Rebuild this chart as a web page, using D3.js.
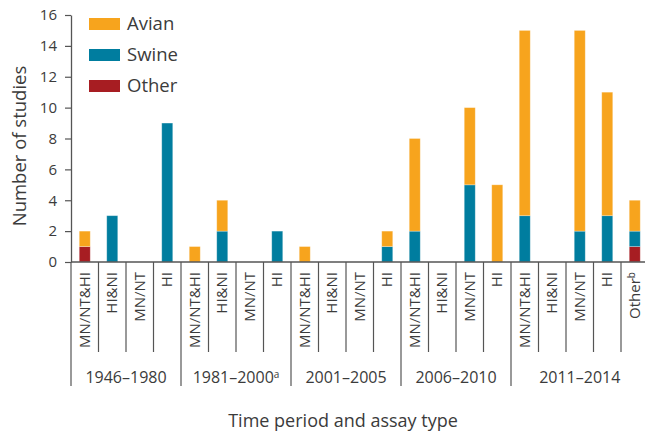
<!DOCTYPE html>
<html>
<head>
<meta charset="utf-8">
<script src="https://cdn.jsdelivr.net/npm/d3@7"></script>
<style>
  body { margin: 0; background: #fff; }
  text { font-family: "Open Sans", sans-serif; fill: #3b3b3b; }
</style>
</head>
<body>
<svg id="chart" width="645" height="432"></svg>
<script>
// data
const periods = ["1946–1980", "1981–2000", "2001–2005", "2006–2010", "2011–2014"];
const periodNotes = ["", "a", "", "", ""];
const assayLabels = [
  "MN/NT&HI", "HI&NI", "MN/NT", "HI",
  "MN/NT&HI", "HI&NI", "MN/NT", "HI",
  "MN/NT&HI", "HI&NI", "MN/NT", "HI",
  "MN/NT&HI", "HI&NI", "MN/NT", "HI",
  "MN/NT&HI", "HI&NI", "MN/NT", "HI", "Other"
];
const assayNotes = ["", "", "", "", "", "", "", "", "", "", "", "", "", "", "", "", "", "", "", "", "b"];
const categoryPeriod = [0, 0, 0, 0, 1, 1, 1, 1, 2, 2, 2, 2, 3, 3, 3, 3, 4, 4, 4, 4, 4];
const other = [1, 0, 0, 0, 0, 0, 0, 0, 0, 0, 0, 0, 0, 0, 0, 0, 0, 0, 0, 0, 1];
const swine = [0, 3, 0, 9, 0, 2, 0, 2, 0, 0, 0, 1, 2, 0, 5, 0, 3, 0, 2, 3, 1];
const avian = [1, 0, 0, 0, 1, 2, 0, 0, 1, 0, 0, 1, 6, 0, 5, 5, 12, 0, 13, 8, 2];
const yTicks = [0, 2, 4, 6, 8, 10, 12, 14, 16];

const seriesKeys = ["other", "swine", "avian"];
const seriesNames = { avian: "Avian", swine: "Swine", other: "Other" };
const colors = { avian: "#f7a41d", swine: "#007d9f", other: "#a71d22" };

const svg = d3.select("#chart");
const plot = { left: 71, right: 648.5, top: 15, bottom: 262 };

const rows = assayLabels.map((a, i) => ({
  i: i, other: other[i], swine: swine[i], avian: avian[i]
}));

const x = d3.scaleBand()
  .domain(d3.range(assayLabels.length))
  .range([plot.left, plot.right])
  .padding(0);
const y = d3.scaleLinear().domain([0, 16]).range([plot.bottom, plot.top]);

const barW = x.bandwidth() * 0.4;

// bars
const stacked = d3.stack().keys(seriesKeys)(rows);
svg.append("g")
  .selectAll("g")
  .data(stacked)
  .join("g")
  .attr("fill", d => colors[d.key])
  .selectAll("rect")
  .data(d => d.filter(s => s[1] - s[0] > 0))
  .join("rect")
  .attr("x", d => x(d.data.i) + (x.bandwidth() - barW) / 2)
  .attr("y", d => y(d[1]))
  .attr("width", barW)
  .attr("height", d => y(d[0]) - y(d[1]))
  .attr("stroke", "rgba(255,255,255,0.35)")
  .attr("stroke-width", 0.8);

// y axis
const yAxis = svg.append("g")
  .attr("transform", `translate(${plot.left},0)`)
  .call(d3.axisLeft(y).tickValues(yTicks).tickSize(6).tickPadding(8).tickSizeOuter(0));
yAxis.select(".domain").attr("stroke", "#555").attr("stroke-width", 1.3);
yAxis.selectAll(".tick line").attr("stroke", "#555").attr("stroke-width", 1.2);
yAxis.selectAll(".tick text")
  .style("font-family", "'Open Sans', sans-serif")
  .style("font-size", "15px")
  .attr("fill", "#3b3b3b");

// x axis line
svg.append("line")
  .attr("x1", plot.left).attr("x2", plot.right)
  .attr("y1", plot.bottom).attr("y2", plot.bottom)
  .attr("stroke", "#555").attr("stroke-width", 1.3);

// separators between categories
const catLineBottom = 352;
const groupLineBottom = 386;
const boundaries = d3.range(assayLabels.length + 1);
svg.append("g")
  .selectAll("line")
  .data(boundaries)
  .join("line")
  .attr("x1", i => i < assayLabels.length ? x(i) : plot.right)
  .attr("x2", i => i < assayLabels.length ? x(i) : plot.right)
  .attr("y1", plot.bottom)
  .attr("y2", i => (i === 0 || i === assayLabels.length || categoryPeriod[i] !== categoryPeriod[i - 1]) ? groupLineBottom : catLineBottom)
  .attr("stroke", "#555")
  .attr("stroke-width", 1.2);

// category labels
const catData = assayLabels.map((label, i) => ({ i: i, label: label, note: assayNotes[i] }));
const catLabels = svg.append("g")
  .selectAll("text")
  .data(catData)
  .join("text")
  .attr("transform", d => `translate(${x(d.i) + x.bandwidth() / 2 + 5},272) rotate(-90)`)
  .attr("text-anchor", "end")
  .style("font-size", "15px");
catLabels.append("tspan").text(d => d.label);
catLabels.filter(d => d.note)
  .append("tspan")
  .attr("dy", "-0.45em")
  .style("font-size", "10px")
  .text(d => d.note);

// period labels
const periodData = periods.map((label, p) => {
  const idx = d3.range(assayLabels.length).filter(i => categoryPeriod[i] === p);
  return { label: label, note: periodNotes[p], first: idx[0], last: idx[idx.length - 1] };
});
const periodLabels = svg.append("g")
  .selectAll("text")
  .data(periodData)
  .join("text")
  .attr("x", d => (x(d.first) + x(d.last) + x.bandwidth()) / 2)
  .attr("y", 383)
  .attr("text-anchor", "middle")
  .style("font-size", "16px");
periodLabels.append("tspan").text(d => d.label);
periodLabels.filter(d => d.note)
  .append("tspan")
  .attr("dy", "-0.5em")
  .style("font-size", "10px")
  .text(d => d.note);

// axis titles
svg.append("text")
  .attr("x", 343)
  .attr("y", 427)
  .attr("text-anchor", "middle")
  .style("font-size", "18px")
  .text("Time period and assay type");

svg.append("text")
  .attr("transform", "translate(26,146) rotate(-90)")
  .attr("text-anchor", "middle")
  .style("font-size", "18.5px")
  .text("Number of studies");

// legend
const legendKeys = ["avian", "swine", "other"];
const legend = svg.append("g")
  .selectAll("g")
  .data(legendKeys)
  .join("g")
  .attr("transform", (d, i) => `translate(89,${18 + i * 31})`);
legend.append("rect")
  .attr("width", 31)
  .attr("height", 12)
  .attr("fill", d => colors[d]);
legend.append("text")
  .attr("x", 38)
  .attr("y", 12)
  .style("font-size", "18.5px")
  .text(d => seriesNames[d]);
</script>
</body>
</html>
